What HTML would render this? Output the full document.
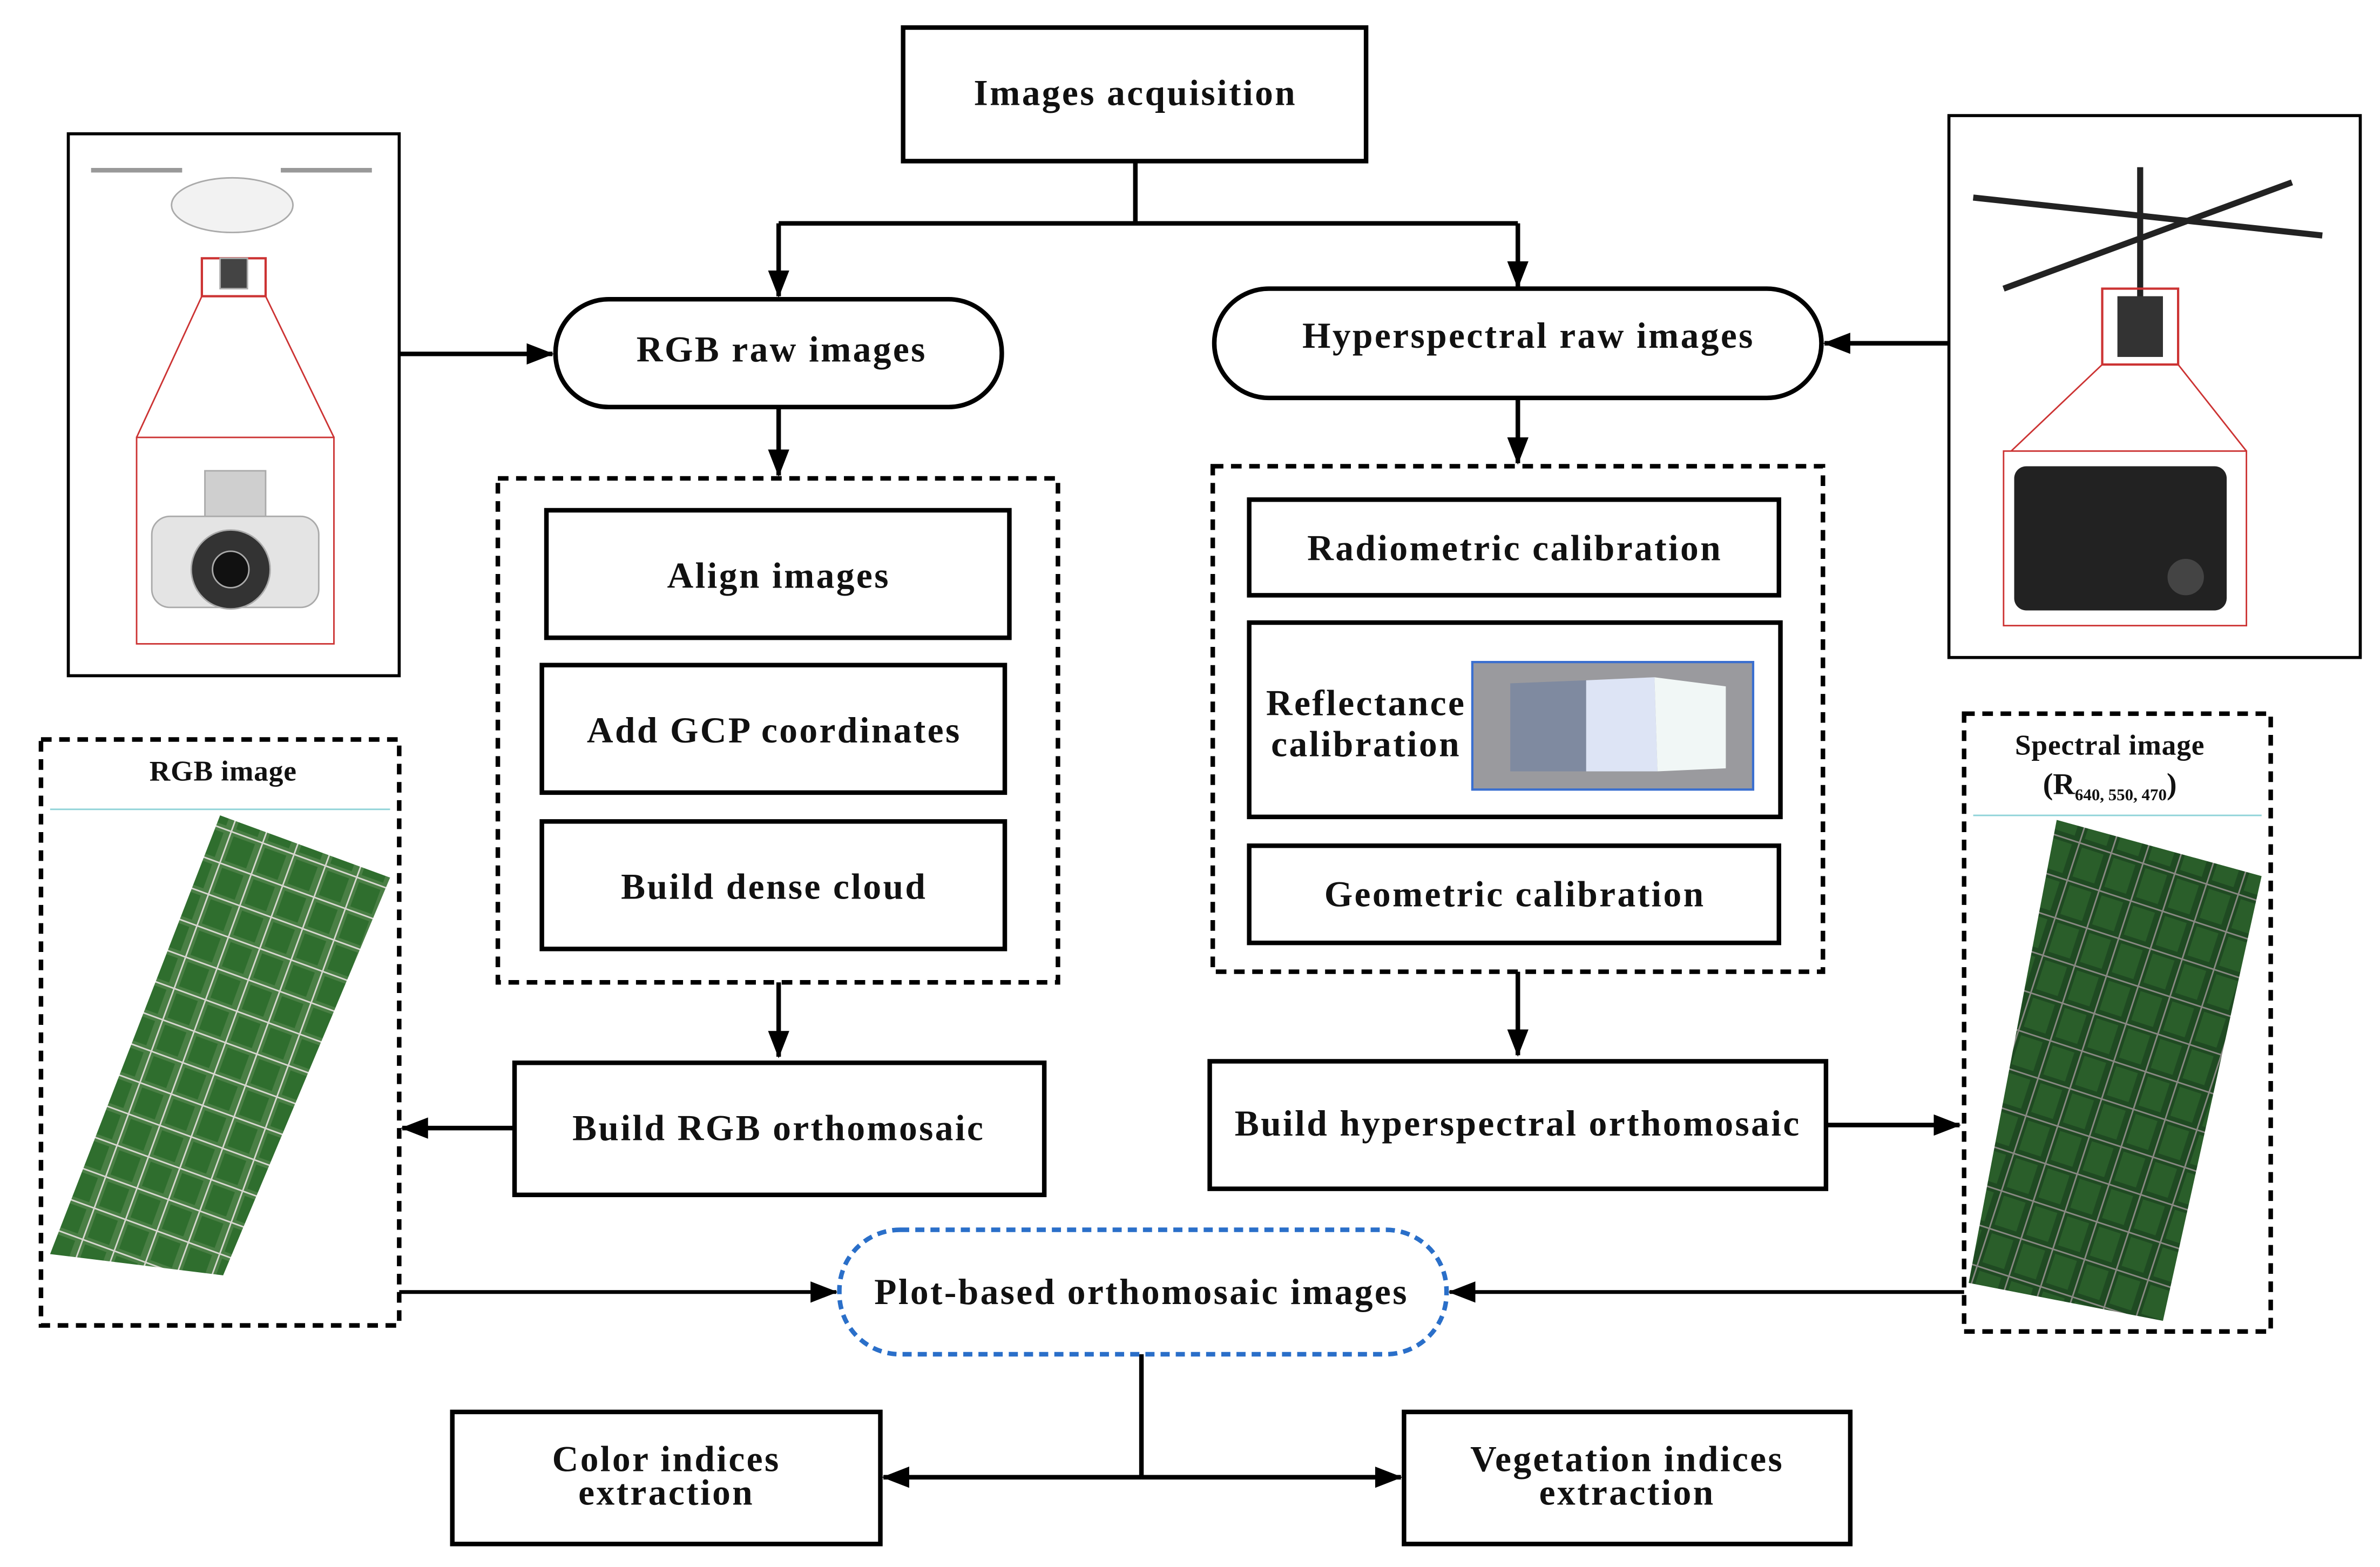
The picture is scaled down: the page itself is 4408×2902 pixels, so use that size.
<!DOCTYPE html>
<html><head><meta charset="utf-8"><style>
html,body{margin:0;padding:0;background:#fff;}
svg{display:block;}
text{font-family:"Liberation Serif",serif;font-weight:bold;fill:#111;letter-spacing:1.2px;}
</style></head><body>
<svg width="4408" height="2902" viewBox="0 0 1568 1032" xmlns="http://www.w3.org/2000/svg">
<defs>
<marker id="b" markerWidth="18" markerHeight="14" refX="17" refY="7" orient="auto" markerUnits="userSpaceOnUse">
<path d="M0,0 L18,7 L0,14 z" fill="#000"/></marker>
<pattern id="grid" width="22" height="22" patternUnits="userSpaceOnUse" patternTransform="rotate(20)">
<rect width="22" height="22" fill="#4a7f45"/>
<rect x="3" y="3" width="15" height="17" fill="#2f6e2e"/>
<path d="M0,0 H22 M0,0 V22" stroke="#d8d8d0" stroke-width="2"/>
</pattern>
<pattern id="grid2" width="22" height="26" patternUnits="userSpaceOnUse" patternTransform="rotate(18)">
<rect width="22" height="26" fill="#1f4a22"/>
<rect x="3" y="3" width="15" height="20" fill="#2a5e2a"/>
<path d="M0,0 H22 M0,0 V26" stroke="#8a8a84" stroke-width="2"/>
</pattern>
</defs>
<g fill="none" stroke="#000" stroke-width="3">
<rect x="595" y="18" width="305" height="88"/>
<path d="M748,106 V147 M513,147 H1000"/>
<path d="M513,147 V195" marker-end="url(#b)"/>
<path d="M1000,147 V189" marker-end="url(#b)"/>
<rect x="366" y="197" width="294" height="71" rx="35"/>
<rect x="800" y="190" width="400" height="72" rx="36"/>
<rect x="45" y="88" width="218" height="357" stroke-width="2"/>
<rect x="1284" y="76" width="271" height="357" stroke-width="2"/>
<path d="M263,233 H364" marker-end="url(#b)"/>
<path d="M1284,226 H1202" marker-end="url(#b)"/>
<rect x="328" y="315" width="369" height="332" stroke-dasharray="7,5"/>
<path d="M513,268 V313" marker-end="url(#b)"/>
<rect x="360" y="336" width="305" height="84"/>
<rect x="357" y="438" width="305" height="84"/>
<rect x="357" y="541" width="305" height="84"/>
<rect x="799" y="307" width="402" height="333" stroke-dasharray="7,5"/>
<path d="M1000,262 V305" marker-end="url(#b)"/>
<rect x="823" y="329" width="349" height="63"/>
<rect x="823" y="410" width="350" height="128"/>
<rect x="823" y="557" width="349" height="64"/>
<path d="M513,647 V696" marker-end="url(#b)"/>
<rect x="339" y="700" width="349" height="87"/>
<path d="M339,743 H265" marker-end="url(#b)"/>
<path d="M1000,640 V695" marker-end="url(#b)"/>
<rect x="797" y="699" width="406" height="84"/>
<path d="M1203,741 H1291" marker-end="url(#b)"/>
<rect x="27" y="487" width="236" height="386" stroke-dasharray="7,5"/>
<rect x="1294" y="470" width="202" height="407" stroke-dasharray="7,5"/>
<path d="M263,851 H551" stroke-width="2.5" marker-end="url(#b)"/>
<path d="M1294,851 H955" stroke-width="2.5" marker-end="url(#b)"/>
<path d="M752,892 V973"/>
<path d="M752,973 H582" marker-end="url(#b)"/>
<path d="M752,973 H923" marker-end="url(#b)"/>
<rect x="298" y="930" width="282" height="87"/>
<rect x="925" y="930" width="294" height="87"/>
</g>
<rect x="553" y="810" width="400" height="82" rx="40" fill="none" stroke="#2a6fc9" stroke-width="3" stroke-dasharray="6,4"/>
<path d="M33,533 H257 M1300,537 H1490" stroke="#8fd3d8" stroke-width="1"/>
<polygon points="145,537 257,578 147,840 33,826" fill="url(#grid)"/>
<polygon points="1355,540 1490,577 1425,870 1297,845" fill="url(#grid2)"/>
<rect x="970" y="436" width="185" height="84" fill="#9a9a9e" stroke="#3a6fd0" stroke-width="1.5"/>
<polygon points="995,450 1045,448 1045,508 995,508" fill="#7f8aa0"/>
<polygon points="1045,448 1090,446 1092,508 1045,508" fill="#dde4f5"/>
<polygon points="1090,446 1137,452 1137,506 1092,508" fill="#f1f7f6"/>
<g stroke="#c33" stroke-width="1" fill="none">
<rect x="133" y="170" width="42" height="25" stroke-width="1.5"/>
<path d="M133,195 L90,288 M175,195 L220,288"/>
<rect x="90" y="288" width="130" height="136"/>
</g>
<g fill="#ddd" stroke="#aaa">
<ellipse cx="153" cy="135" rx="40" ry="18" fill="#f2f2f2"/>
<path d="M60,112 H120 M185,112 H245" stroke="#999" stroke-width="3"/>
<rect x="145" y="170" width="18" height="20" fill="#444"/>
<rect x="135" y="310" width="40" height="40" fill="#cfcfcf"/>
<rect x="100" y="340" width="110" height="60" rx="12" fill="#e4e4e4"/>
<circle cx="152" cy="375" r="26" fill="#333"/>
<circle cx="152" cy="375" r="12" fill="#111"/>
</g>
<g stroke="#222" stroke-width="4" fill="none">
<path d="M1300,130 L1530,155 M1320,190 L1510,120 M1410,110 V210"/>
</g>
<rect x="1385" y="190" width="50" height="50" fill="none" stroke="#c33" stroke-width="1.5"/>
<rect x="1395" y="195" width="30" height="40" fill="#333"/>
<path d="M1385,240 L1325,297 M1435,240 L1480,297" stroke="#c33" stroke-width="1"/>
<rect x="1320" y="297" width="160" height="115" fill="none" stroke="#c33" stroke-width="1"/>
<rect x="1327" y="307" width="140" height="95" rx="8" fill="#222"/>
<circle cx="1440" cy="380" r="12" fill="#444"/>
<g text-anchor="middle" font-size="24">
<text x="748" y="69">Images acquisition</text>
<text x="515" y="238">RGB raw images</text>
<text x="1007" y="229">Hyperspectral raw images</text>
<text x="513" y="387">Align images</text>
<text x="510" y="489">Add GCP coordinates</text>
<text x="510" y="592">Build dense cloud</text>
<text x="998" y="369">Radiometric calibration</text>
<text x="900" y="471">Reflectance</text>
<text x="900" y="498">calibration</text>
<text x="998" y="597">Geometric calibration</text>
<text x="513" y="751">Build RGB orthomosaic</text>
<text x="1000" y="748">Build hyperspectral  orthomosaic</text>
<text x="752" y="859">Plot-based orthomosaic images</text>
<text x="439" y="969">Color indices</text>
<text x="439" y="991">extraction</text>
<text x="1072" y="969">Vegetation indices</text>
<text x="1072" y="991">extraction</text>
<text x="147" y="514" font-size="19" style="letter-spacing:0.3px">RGB image</text>
<text x="1390" y="497" font-size="19" style="letter-spacing:0.3px">Spectral image</text>
<text x="1390" y="523" font-size="20" style="letter-spacing:0">(R<tspan font-size="11" dy="4">640, 550, 470</tspan><tspan dy="-4">)</tspan></text>
</g>
</svg>
</body></html>
